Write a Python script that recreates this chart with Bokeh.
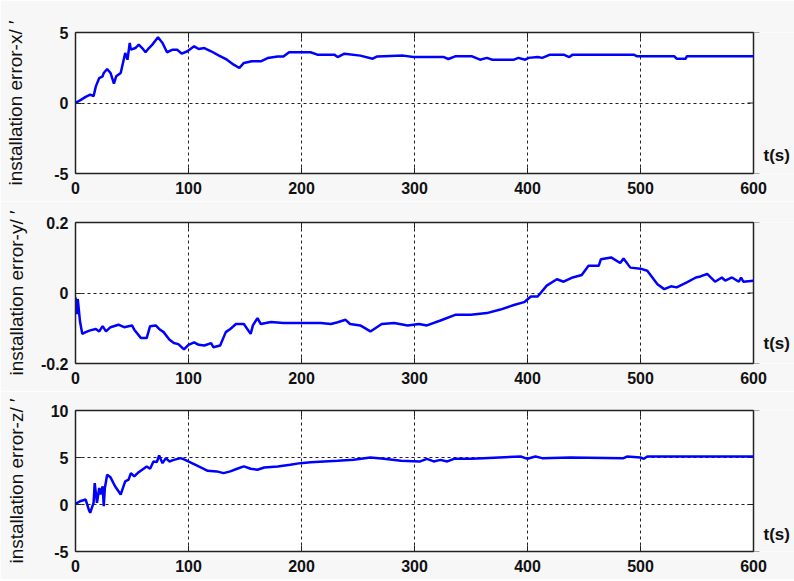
from bokeh.plotting import figure
from bokeh.layouts import column
from bokeh.models import FixedTicker, LinearAxis, Range1d
from bokeh.core.properties import value
from bokeh.embed import file_html
from bokeh.resources import INLINE

# ---- data ----
x_ticks = [0, 100, 200, 300, 400, 500, 600]
x_tick_labels = ["0", "100", "200", "300", "400", "500", "600"]

t_x = [0, 4, 9, 13, 16, 18, 21, 24, 25, 28,
       31, 34, 36, 40, 43, 44, 46, 48, 49, 53,
       56, 59, 62, 65, 68, 73, 77, 81, 86, 90,
       94, 99, 105, 109, 114, 120, 127, 134, 140, 145,
       149, 156, 164, 170, 179, 184, 189, 199, 208, 214,
       229, 232, 238, 252, 263, 267, 290, 299, 326, 330,
       336, 351, 358, 364, 369, 388, 392, 398, 401, 409,
       413, 420, 432, 437, 440, 444, 494, 497, 530, 532,
       540, 541, 600]
err_x = [0, 0.19, 0.43, 0.59, 0.48, 1.18, 1.77, 1.89, 2.13, 2.41,
         2.13, 1.37, 1.89, 2.13, 3.19, 3.55, 3.07, 4.26, 3.78, 3.9,
         4.14, 3.9, 3.6, 3.9, 4.14, 4.66, 4.26, 3.6, 3.78, 3.78,
         3.5, 3.67, 4.02, 3.83, 3.9, 3.67, 3.36, 3.07, 2.72, 2.48,
         2.84, 2.96, 2.96, 3.19, 3.3, 3.3, 3.6, 3.6, 3.6, 3.43,
         3.43, 3.26, 3.5, 3.36, 3.14, 3.3, 3.36, 3.26, 3.26, 3.12,
         3.31, 3.31, 3.07, 3.2, 3.07, 3.07, 3.2, 3.07, 3.2, 3.26,
         3.2, 3.43, 3.43, 3.26, 3.43, 3.43, 3.43, 3.31, 3.31, 3.14,
         3.14, 3.31, 3.31]
x_yticks = [-5, 0, 5]
x_ytick_labels = ["-5", "0", "5"]

t_y = [0, 1, 2, 4, 6, 9, 13, 18, 21, 24,
       27, 31, 38, 43, 50, 52, 58, 63, 66, 71,
       74, 78, 83, 87, 91, 96, 100, 105, 109, 114,
       120, 122, 128, 133, 137, 142, 149, 155, 157, 161,
       164, 173, 184, 202, 217, 226, 232, 239, 243, 252,
       261, 271, 282, 294, 304, 311, 323, 336, 350, 364,
       376, 388, 397, 403, 409, 417, 426, 432, 440, 448,
       454, 463, 465, 474, 482, 485, 491, 500, 506, 515,
       521, 527, 532, 541, 549, 553, 559, 566, 572, 575,
       581, 587, 589, 591, 600]
err_y = [-0.012, -0.06, -0.017, -0.081, -0.116, -0.111, -0.106, -0.102, -0.109, -0.094,
         -0.109, -0.097, -0.090, -0.097, -0.092, -0.104, -0.128, -0.128, -0.094, -0.092,
         -0.102, -0.111, -0.132, -0.142, -0.145, -0.160, -0.147, -0.140, -0.147, -0.149,
         -0.142, -0.154, -0.149, -0.111, -0.102, -0.088, -0.088, -0.116, -0.092, -0.071,
         -0.088, -0.082, -0.085, -0.085, -0.085, -0.088, -0.083, -0.076, -0.088, -0.092,
         -0.109, -0.088, -0.085, -0.092, -0.088, -0.092, -0.078, -0.062, -0.062, -0.057,
         -0.047, -0.034, -0.026, -0.010, -0.010, 0.021, 0.039, 0.032, 0.044, 0.051,
         0.077, 0.077, 0.096, 0.101, 0.085, 0.098, 0.072, 0.069, 0.063, 0.025,
         0.011, 0.019, 0.016, 0.030, 0.044, 0.047, 0.054, 0.032, 0.044, 0.035,
         0.044, 0.032, 0.044, 0.032, 0.035]
y_yticks = [-0.2, 0, 0.2]
y_ytick_labels = ["-0.2", "0", "0.2"]

t_z = [0, 4, 9, 12, 13, 16, 17, 19, 21, 22,
       24, 25, 26, 28, 31, 35, 40, 42, 44, 47,
       49, 52, 55, 59, 63, 66, 69, 72, 74, 77,
       80, 83, 87, 93, 97, 103, 109, 117, 125, 131,
       137, 143, 149, 155, 161, 167, 179, 190, 199, 208,
       220, 232, 246, 261, 273, 288, 305, 311, 317, 323,
       329, 335, 350, 361, 394, 400, 407, 413, 438, 485,
       488, 500, 503, 506, 600]
err_z = [0.07, 0.35, 0.53, -0.63, -0.88, 0.18, 2.28, 0.18, 1.76, 1.06,
         1.94, -0.18, 1.76, 3.17, 2.89, 1.94, 1.06, 1.76, 2.46, 2.64,
         3.34, 2.99, 3.34, 3.7, 4.05, 3.8, 4.58, 4.52, 5.21, 4.4,
         4.93, 4.58, 4.75, 4.93, 4.75, 4.4, 4.05, 3.59, 3.52, 3.34,
         3.52, 3.8, 4.05, 3.8, 3.7, 3.94, 4.05, 4.22, 4.4, 4.5,
         4.58, 4.65, 4.75, 5.0, 4.86, 4.65, 4.58, 4.86, 4.58, 4.75,
         4.58, 4.86, 4.86, 4.93, 5.1, 4.86, 5.1, 4.93, 5.0, 4.93,
         5.1, 5.0, 4.86, 5.1, 5.1]
z_yticks = [-5, 0, 5, 10]
z_ytick_labels = ["-5", "0", "5", "10"]

FONT = "Liberation Sans"
INK = "#111111"
EDGE = "#222222"
BORDER = "#f7f7f7"

FIG_W = 794
LEFT = 75
PLOT_W = 678                      # pixel width of the 0..600 box
X_MAX = x_ticks[-1]
X_END = X_MAX * (FIG_W - LEFT) / PLOT_W   # room on the right for "t(s)"


def style_axis(ax):
    ax.axis_line_color = EDGE
    ax.axis_line_width = 1.5
    ax.major_tick_in = 6
    ax.major_tick_out = 0
    ax.major_tick_line_color = EDGE
    ax.minor_tick_line_color = None
    ax.major_label_text_font = FONT
    ax.major_label_text_font_size = "16px"
    ax.major_label_text_font_style = "bold"
    ax.major_label_text_color = INK


def panel(t, v, yrange, yticks, ylabels, ylabel, label_standoff, ts_y, height, top):
    y0, y1 = yrange
    p = figure(width=FIG_W, height=height, x_range=Range1d(0, X_END), y_range=Range1d(y0, y1),
               output_backend="svg", toolbar_location=None,
               min_border_left=LEFT, min_border_right=0, min_border_top=top, min_border_bottom=28)
    p.background_fill_color = "white"
    p.border_fill_color = BORDER
    p.outline_line_color = None

    bottom_ax = p.below[0]
    left_ax = p.left[0]
    top_ax = LinearAxis()
    p.add_layout(top_ax, "above")
    for ax in (bottom_ax, left_ax, top_ax):
        style_axis(ax)
    for ax in (bottom_ax, top_ax):
        ax.ticker = FixedTicker(ticks=x_ticks)
        ax.bounds = (x_ticks[0], X_MAX)
        ax.major_label_overrides = dict(zip(x_ticks, x_tick_labels))
    bottom_ax.major_label_standoff = 8
    top_ax.major_label_text_font_size = "0px"
    top_ax.major_label_text_color = None
    top_ax.major_label_standoff = 0

    left_ax.ticker = FixedTicker(ticks=yticks)
    left_ax.major_label_overrides = dict(zip(yticks, ylabels))
    left_ax.major_label_standoff = 7
    left_ax.axis_label = ylabel
    left_ax.axis_label_text_font = FONT
    left_ax.axis_label_text_font_size = "19px"
    left_ax.axis_label_text_font_style = "normal"
    left_ax.axis_label_text_color = INK
    left_ax.axis_label_standoff = label_standoff

    p.xgrid.ticker = FixedTicker(ticks=x_ticks[1:-1])
    p.ygrid.ticker = FixedTicker(ticks=yticks[1:-1])
    for g in (p.xgrid, p.ygrid):
        g.grid_line_color = EDGE
        g.grid_line_dash = "3 3"
        g.grid_line_width = 1

    # right-hand ticks (outer half hidden by the strip drawn next)
    p.scatter(x=[X_MAX] * len(yticks), y=yticks, marker="dash", size=12,
              line_color=EDGE, line_width=1)
    # border-coloured strip right of the box (hides grid lines), then right box edge
    p.quad(left=[X_MAX], right=[X_END], bottom=[y0], top=[y1],
           fill_color=BORDER, line_color=None)
    p.line([X_MAX, X_MAX], [y0, y1], line_color=EDGE, line_width=1.5)

    p.line(t, v, line_color="#0000ff", line_width=2.5)

    p.text(x=[X_MAX], y=[ts_y], text=["t(s)"], x_offset=10,
           text_font=value(FONT), text_font_size="17px", text_font_style="bold",
           text_color=INK, text_baseline="middle", text_align="left")
    return p


p1 = panel(t_x, err_x, (-5, 5), x_yticks, x_ytick_labels,
           "installation error-x/ \u2032", 25, -3.72, 201, 32)
p2 = panel(t_y, err_y, (-0.2, 0.2), y_yticks, y_ytick_labels,
           "installation error-y/ \u2032", 11, -0.143, 190, 21)
p3 = panel(t_z, err_z, (-5, 10), z_yticks, z_ytick_labels,
           "installation error-z/ \u2032", 21, -3.19, 188, 19)

layout = column(p1, p2, p3, spacing=0)
open("out.html", "w").write(file_html(layout, INLINE))
